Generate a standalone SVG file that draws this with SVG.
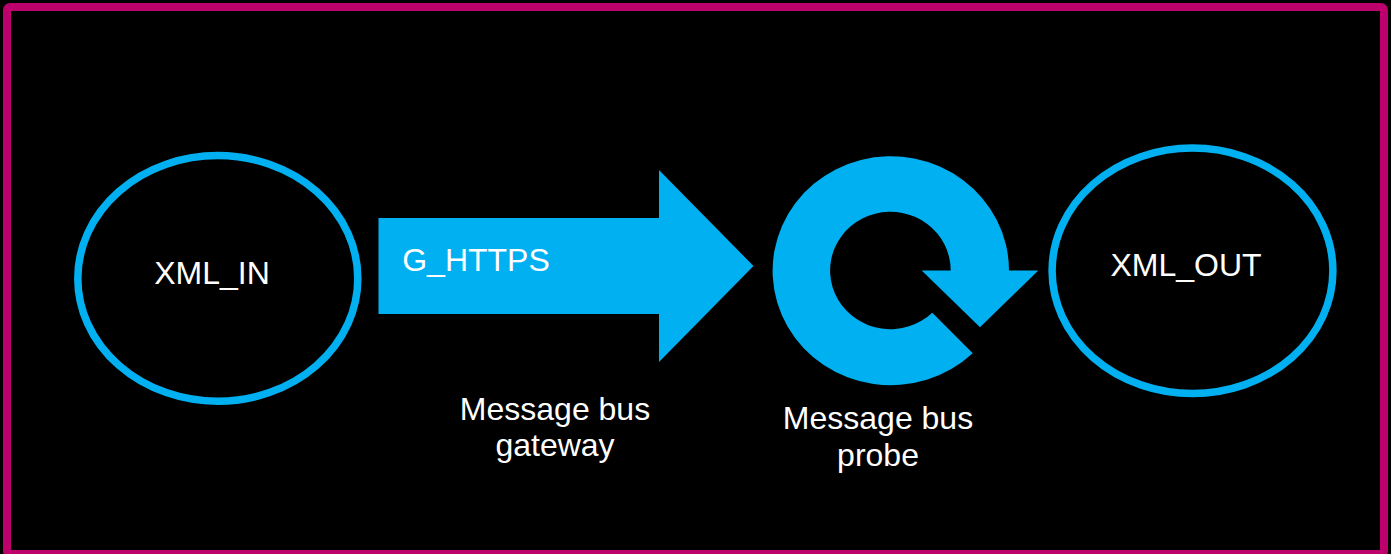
<svg xmlns="http://www.w3.org/2000/svg" width="1391" height="554" viewBox="0 0 1391 554">
<style>
.t{font-family:"Liberation Sans",Arial,sans-serif;font-size:32px;fill:#fff;text-anchor:middle}
.o{fill:#000;stroke:#00b0f0;stroke-width:7.500}
.f{fill:#00b0f0}
</style>
<rect width="1391" height="554" fill="#000"/>
<rect x="7" y="7" width="1377" height="547" rx="3" fill="none" stroke="#bc006c" stroke-width="8"/>
<g id="xml-in"><ellipse class="o" cx="217.800" cy="278.400" rx="140" ry="122.800"/><text class="t" x="212" y="284">XML_IN</text></g>
<g id="gateway"><path class="f" d="M378.500 218H659V170L753.500 266L659 362V314H378.500Z"/><text class="t" x="476" y="271">G_HTTPS</text><text class="t" x="555" y="420">Message bus</text><text class="t" x="555" y="456">gateway</text></g>
<g id="probe"><path class="f" d="M1009 270.500A118.200 114.500 0 1 0 972.700 353.300L932.300 312.700A60.300 58.700 0 1 1 950.700 270.500H921.700L980 327.300L1038.300 270.500Z"/><text class="t" x="878" y="429">Message bus</text><text class="t" x="878" y="466">probe</text></g>
<g id="xml-out"><ellipse class="o" cx="1192.500" cy="270.800" rx="140.400" ry="122.700"/><text class="t" x="1186" y="276">XML_OUT</text></g>
<g id="connectors"></g>
</svg>
